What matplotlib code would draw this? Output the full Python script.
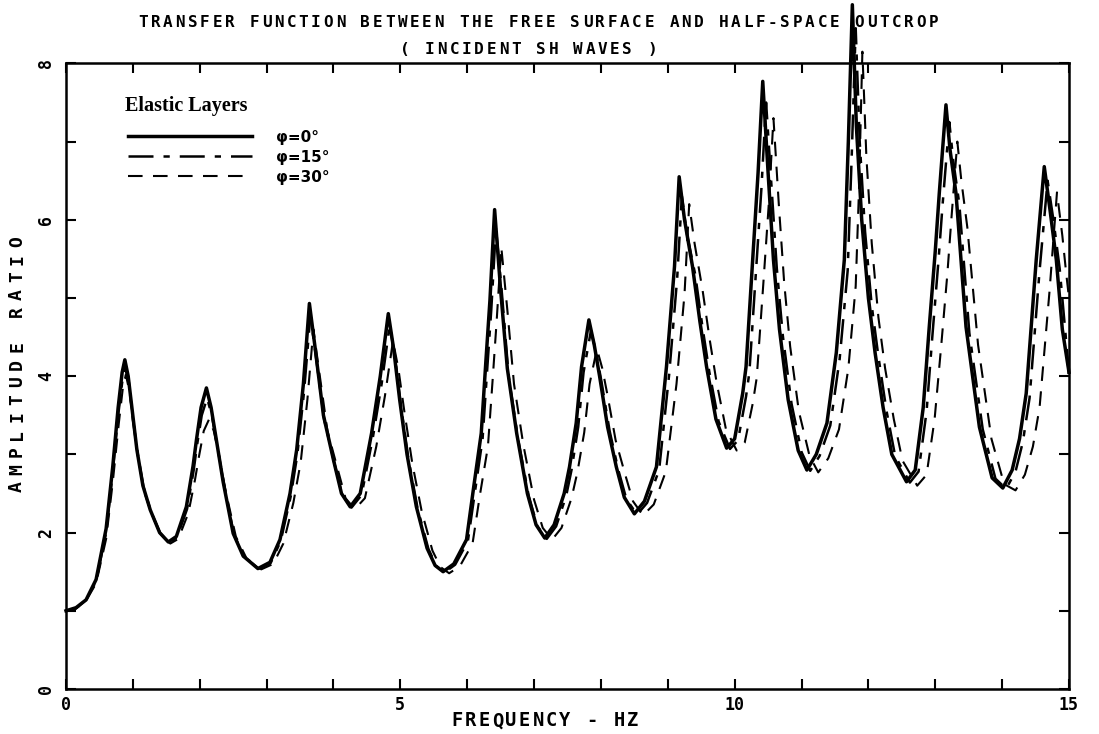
import matplotlib
matplotlib.use('Agg')
import matplotlib.pyplot as plt

# Transfer function (frequency in Hz, amplitude ratio)
freq_0 = [0.0, 0.15, 0.3, 0.45, 0.6, 0.7, 0.78, 0.84, 0.88,
          0.93, 1.0, 1.06, 1.15, 1.26, 1.4, 1.53,
          1.65, 1.8, 1.9, 1.95, 2.02, 2.10,
          2.17, 2.25, 2.35, 2.5, 2.65, 2.87,
          3.05, 3.2, 3.35, 3.45, 3.55, 3.64,
          3.72, 3.85, 4.0, 4.12, 4.25,
          4.4, 4.57, 4.7, 4.82,
          4.9, 4.99, 5.1, 5.24, 5.4, 5.52, 5.64,
          5.8, 5.99, 6.1, 6.21, 6.28, 6.34, 6.41,
          6.5, 6.6, 6.74, 6.9, 7.03, 7.16,
          7.3, 7.45, 7.53, 7.63, 7.71, 7.82,
          7.9, 7.98, 8.1, 8.23, 8.35, 8.5,
          8.65, 8.83, 8.98, 9.1, 9.17,
          9.25, 9.37, 9.48, 9.58, 9.72, 9.88,
          10.0, 10.12, 10.17, 10.27, 10.35, 10.42,
          10.5, 10.58, 10.67, 10.8, 10.95, 11.08,
          11.22, 11.38, 11.52, 11.64, 11.7, 11.76,
          11.82, 11.9, 12.0, 12.1, 12.22, 12.35, 12.57,
          12.7, 12.82, 12.91, 13.0, 13.06, 13.16,
          13.22, 13.31, 13.46, 13.66, 13.85, 14.01,
          14.15, 14.26, 14.36, 14.51, 14.63,
          14.72, 14.81, 14.9, 15.0]
amp_0 = [1.00, 1.04, 1.14, 1.40, 2.05, 2.85, 3.60, 4.05, 4.21,
         4.0, 3.5, 3.06, 2.6, 2.29, 2.0, 1.88,
         1.95, 2.33, 2.85, 3.18, 3.6, 3.85,
         3.6, 3.18, 2.65, 1.99, 1.7, 1.54,
         1.62, 1.91, 2.5, 3.06, 3.9, 4.93,
         4.4, 3.5, 2.93, 2.5, 2.33,
         2.5, 3.27, 4.0, 4.80,
         4.35, 3.70, 3.0, 2.33, 1.8, 1.58, 1.50,
         1.6, 1.91, 2.6, 3.27, 4.2, 4.97, 6.13,
         5.1, 4.1, 3.27, 2.5, 2.1, 1.93,
         2.1, 2.5, 2.84, 3.4, 4.12, 4.72,
         4.4, 4.0, 3.35, 2.84, 2.45, 2.24,
         2.4, 2.84, 4.12, 5.40, 6.55,
         6.0, 5.40, 4.7, 4.12, 3.45, 3.08,
         3.2, 3.78, 4.12, 5.49, 6.6, 7.77,
         6.6, 5.49, 4.6, 3.7, 3.05, 2.80,
         3.0, 3.4, 4.3, 5.49, 7.0, 8.75,
         7.2, 6.0, 5.0, 4.3, 3.6, 3.0, 2.65,
         2.8, 3.6, 4.63, 5.6, 6.34, 7.47,
         6.9, 6.34, 4.63, 3.35, 2.7, 2.57,
         2.8, 3.2, 3.78, 5.49, 6.68,
         6.1, 5.49, 4.6, 4.05]

freq_15 = [0.0, 0.15, 0.3, 0.45, 0.6, 0.7, 0.78, 0.84, 0.885,
           0.94, 1.0, 1.07, 1.16, 1.27, 1.41, 1.54,
           1.66, 1.81, 1.91, 1.96, 2.03, 2.11,
           2.18, 2.26, 2.36, 2.51, 2.66, 2.88,
           3.06, 3.21, 3.36, 3.46, 3.56, 3.655,
           3.73, 3.86, 4.01, 4.13, 4.27,
           4.42, 4.59, 4.72, 4.84,
           4.92, 5.01, 5.12, 5.26, 5.42, 5.54, 5.66,
           5.82, 6.01, 6.12, 6.23, 6.30, 6.36, 6.43,
           6.52, 6.62, 6.76, 6.92, 7.05, 7.19,
           7.33, 7.48, 7.56, 7.66, 7.74, 7.85,
           7.93, 8.01, 8.13, 8.26, 8.38, 8.54,
           8.69, 8.87, 9.02, 9.14, 9.21,
           9.29, 9.41, 9.52, 9.62, 9.76, 9.93,
           10.05, 10.17, 10.22, 10.32, 10.40, 10.47,
           10.55, 10.63, 10.72, 10.85, 11.0, 11.13,
           11.27, 11.43, 11.57, 11.69, 11.75, 11.81,
           11.87, 11.95, 12.05, 12.15, 12.27, 12.40, 12.62,
           12.75, 12.87, 12.96, 13.05, 13.11, 13.21,
           13.27, 13.36, 13.51, 13.71, 13.90, 14.06,
           14.2, 14.31, 14.41, 14.56, 14.68,
           14.77, 14.86, 14.95, 15.0]
amp_15 = [1.00, 1.03, 1.14, 1.38, 2.0, 2.78, 3.5, 3.92, 4.10,
          3.92, 3.45, 3.02, 2.58, 2.27, 1.99, 1.87,
          1.94, 2.30, 2.80, 3.12, 3.50, 3.72,
          3.50, 3.12, 2.62, 1.98, 1.69, 1.54,
          1.61, 1.89, 2.46, 3.0, 3.8, 4.78,
          4.3, 3.45, 2.9, 2.48, 2.32,
          2.48, 3.22, 3.9, 4.65,
          4.25, 3.62, 2.95, 2.3, 1.79, 1.57, 1.49,
          1.59, 1.89, 2.55, 3.2, 4.1, 4.85, 5.9,
          5.05, 4.0, 3.2, 2.47, 2.08, 1.92,
          2.08, 2.47, 2.8, 3.35, 4.05, 4.58,
          4.3, 3.92, 3.3, 2.8, 2.43, 2.23,
          2.38, 2.8, 4.02, 5.25, 6.3,
          5.8, 5.3, 4.62, 4.06, 3.42, 3.07,
          3.18, 3.74, 4.05, 5.35, 6.4, 7.5,
          6.45, 5.38, 4.52, 3.65, 3.03, 2.79,
          2.98, 3.37, 4.22, 5.35, 6.8, 8.45,
          7.0, 5.85, 4.9, 4.25, 3.56, 2.98, 2.64,
          2.78, 3.55, 4.55, 5.5, 6.2, 7.25,
          6.75, 6.2, 4.55, 3.32, 2.69, 2.56,
          2.78, 3.16, 3.72, 5.35, 6.5,
          5.98, 5.38, 4.52, 4.0]

freq_30 = [0.0, 0.15, 0.3, 0.45, 0.6, 0.7, 0.79, 0.85, 0.895,
           0.95, 1.02, 1.08, 1.17, 1.28, 1.42, 1.56,
           1.68, 1.83, 1.93, 1.99, 2.06, 2.14,
           2.21, 2.29, 2.39, 2.54, 2.7, 2.92,
           3.1, 3.25, 3.4, 3.51, 3.61, 3.70,
           3.78, 3.91, 4.06, 4.18, 4.32,
           4.47, 4.64, 4.77, 4.89,
           4.97, 5.06, 5.18, 5.32, 5.48, 5.60, 5.73,
           5.89, 6.08, 6.19, 6.31, 6.38, 6.44, 6.51,
           6.60, 6.70, 6.84, 7.0, 7.13, 7.27,
           7.41, 7.56, 7.65, 7.75, 7.83, 7.94,
           8.02, 8.10, 8.22, 8.36, 8.48, 8.63,
           8.79, 8.97, 9.13, 9.25, 9.32,
           9.40, 9.52, 9.63, 9.73, 9.87, 10.03,
           10.15, 10.27, 10.33, 10.43, 10.51, 10.58,
           10.66, 10.74, 10.83, 10.96, 11.12, 11.25,
           11.40, 11.56, 11.70, 11.81, 11.86, 11.91,
           11.97, 12.05, 12.15, 12.25, 12.38, 12.51, 12.73,
           12.87, 12.99, 13.09, 13.18, 13.24, 13.33,
           13.39, 13.48, 13.64, 13.84, 14.03, 14.20,
           14.34, 14.46, 14.56, 14.71, 14.82,
           14.9, 14.96, 15.0]
amp_30 = [1.00, 1.03, 1.13, 1.35, 1.92, 2.65, 3.4, 3.85, 4.02,
          3.8, 3.35, 2.95, 2.52, 2.24, 1.97, 1.86,
          1.92, 2.25, 2.68, 2.98, 3.3, 3.45,
          3.3, 2.98, 2.52, 1.95, 1.67, 1.53,
          1.6, 1.86, 2.38, 2.9, 3.7, 4.6,
          4.1, 3.3, 2.82, 2.44, 2.30,
          2.44, 3.1, 3.75, 4.45,
          4.1, 3.55, 2.88, 2.27, 1.77, 1.56, 1.48,
          1.57, 1.86, 2.48, 3.1, 3.95, 4.7, 5.65,
          4.85, 3.9, 3.12, 2.42, 2.06, 1.91,
          2.06, 2.44, 2.78, 3.28, 3.9, 4.35,
          4.1, 3.75, 3.18, 2.75, 2.4, 2.22,
          2.36, 2.78, 3.9, 5.05, 6.2,
          5.7, 5.1, 4.45, 3.92, 3.32, 3.05,
          3.15, 3.65, 3.98, 5.2, 6.2, 7.3,
          6.2, 5.2, 4.38, 3.55, 2.98, 2.77,
          2.95, 3.32, 4.1, 5.15, 6.4, 8.15,
          6.8, 5.7, 4.75, 4.1, 3.45, 2.92, 2.6,
          2.74, 3.45, 4.4, 5.3, 6.0, 7.0,
          6.5, 5.9, 4.4, 3.2, 2.62, 2.54,
          2.74, 3.1, 3.6, 5.1, 6.35,
          5.8, 5.3, 5.0]

labels = ['\u03c6=0\u00b0', '\u03c6=15\u00b0', '\u03c6=30\u00b0']
x_ticks = list(range(0, 16))
y_ticks = list(range(0, 9))

W, H = 1099, 734
MONO = 'DejaVu Sans Mono'


def plotter_text(fig, s, x0, y0, pitch, size, vertical=False):
    """Old pen-plotter lettering: fixed, wide character pitch (pixel coords)."""
    for i, ch in enumerate(s):
        if ch == ' ':
            continue
        if vertical:
            x, y, rot = x0, y0 - i * pitch, 90
        else:
            x, y, rot = x0 + i * pitch, y0, 0
        fig.text(x / W, 1 - y / H, ch, ha='center', va='center', rotation=rot,
                 family=MONO, weight='bold', fontsize=size)


fig = plt.figure(figsize=(W / 100, H / 100), dpi=100, facecolor='white')
ax = fig.add_axes([66 / W, 1 - 689 / H, 1003 / W, 625.6 / H])

ax.plot(freq_0, amp_0, color='black', lw=2.5, ls='-', label=labels[0], clip_on=False)
ax.plot(freq_15, amp_15, color='black', lw=1.8, dashes=(10, 4, 2.5, 4), label=labels[1], clip_on=False)
ax.plot(freq_30, amp_30, color='black', lw=1.5, dashes=(7, 5), label=labels[2], clip_on=False)

ax.set_xlim(0, 15)
ax.set_ylim(0, 8)
ax.set_xticks(x_ticks)
ax.set_xticklabels([str(t) if t % 5 == 0 else '' for t in x_ticks],
                   family=MONO, weight='bold', fontsize=12)
ax.set_yticks(y_ticks)
ax.set_yticklabels([str(t) if t % 2 == 0 else '' for t in y_ticks],
                   family=MONO, weight='bold', fontsize=12, rotation=90, va='center')
ax.tick_params(direction='in', length=7, width=1.5, top=True, right=True)
ax.tick_params(axis='y', pad=8)
ax.tick_params(axis='x', pad=5)
for sp in ax.spines.values():
    sp.set_linewidth(1.8)

leg = ax.legend(loc='upper left', bbox_to_anchor=(0.0618, 0.894), frameon=False,
                borderpad=0, borderaxespad=0,
                handlelength=8.1, handletextpad=1.6, labelspacing=0.33,
                prop={'family': 'DejaVu Sans', 'weight': 'bold', 'size': 11})
ax.text(0.0588, 0.932, 'Elastic Layers', transform=ax.transAxes, ha='left', va='center',
        family='Liberation Serif', weight='bold', fontsize=14.5)

plotter_text(fig, 'TRANSFER FUNCTION BETWEEN THE FREE SURFACE AND HALF-SPACE OUTCROP',
             143, 22.5, 12.35, 11.5)
plotter_text(fig, '( INCIDENT SH WAVES )', 405, 49, 12.35, 11.5)
plotter_text(fig, 'FREQUENCY - HZ', 457, 721, 13.5, 13.5)
plotter_text(fig, 'AMPLITUDE RATIO', 17, 487, 17.5, 13, vertical=True)

fig.savefig('out.png', dpi=100, facecolor='white')
plt.close(fig)
